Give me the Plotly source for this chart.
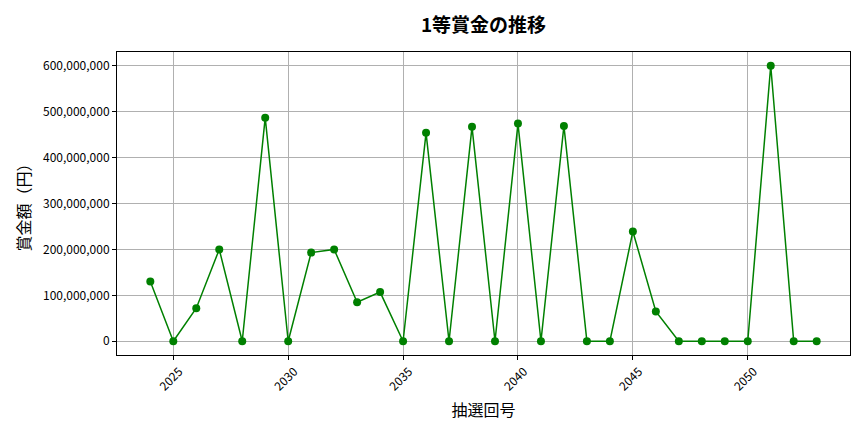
import plotly.graph_objects as go

# 抽選回号と1等賞金
draws = list(range(2024, 2054))
prizes = [
    130000000, 0, 72000000, 200000000, 0, 487000000, 0, 193000000, 200000000, 85000000,
    107000000, 0, 454000000, 0, 467000000, 0, 474000000, 0, 469000000, 0,
    0, 239000000, 65000000, 0, 0, 0, 0, 600000000, 0, 0,
]
x_ticks = [2025, 2030, 2035, 2040, 2045, 2050]
y_ticks = [0, 100000000, 200000000, 300000000, 400000000, 500000000, 600000000]

font = "Noto Sans CJK JP"

fig = go.Figure()
fig.add_trace(go.Scatter(
    x=draws, y=prizes,
    mode="lines+markers",
    line=dict(color="green", width=1.5),
    marker=dict(color="green", size=8),
    showlegend=False,
))

fig.update_layout(
    width=864, height=432,
    margin=dict(l=117, r=14, t=52, b=77, autoexpand=False),
    plot_bgcolor="white", paper_bgcolor="white",
    font=dict(family=font, size=12, color="black"),
    title=dict(text="<b>1等賞金の推移</b>", x=0.5, xanchor="center", y=0.942, yanchor="middle",
               xref="paper", font=dict(size=19, family=font, color="black")),
)

axis_common = dict(
    showline=True, linecolor="black", linewidth=1, mirror=True,
    showgrid=True, gridcolor="#b0b0b0", gridwidth=0.8,
    ticks="outside", ticklen=4, tickcolor="black",
    zeroline=False, automargin=False,
)

fig.update_xaxes(
    range=[2022.55, 2054.45],
    tickvals=x_ticks, ticktext=[str(v) for v in x_ticks],
    tickangle=-45, tickfont=dict(size=12), ticklabelshift=6,
    title=dict(text="抽選回号", font=dict(size=16), standoff=12),
    **axis_common,
)
fig.update_yaxes(
    range=[-30000000, 630000000],
    tickvals=y_ticks, ticktext=[f"{v:,}" for v in y_ticks],
    tickfont=dict(size=12),
    title=dict(text="賞金額（円）", font=dict(size=16), standoff=8),
    **axis_common,
)

fig.write_html("out.html", config={"displayModeBar": False},
               post_script="document.body.style.margin='0';")
